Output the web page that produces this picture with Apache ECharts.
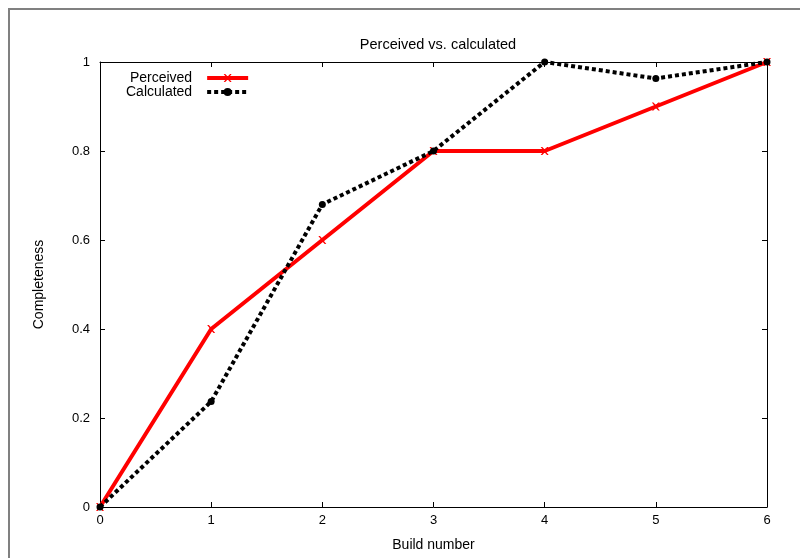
<!DOCTYPE html>
<html><head><meta charset="utf-8">
<script src="https://cdn.jsdelivr.net/npm/echarts@6/dist/echarts.min.js"></script>
<style>html,body{margin:0;padding:0;background:#fff}#c{width:800px;height:558px}</style>
</head><body><div id="c"></div>
<script>
const buildNumbers = [0, 1, 2, 3, 4, 5, 6];
const perceived = [0, 0.4, 0.6, 0.8, 0.8, 0.9, 1.0];
const calculated = [0, 0.237, 0.68, 0.8, 1.0, 0.963, 1.0];
const seriesNames = ['Perceived', 'Calculated'];

const font = 'Liberation Sans, Arial, sans-serif';
const chart = echarts.init(document.getElementById('c'), null, {renderer: 'canvas'});
const crossPath = 'path://M0,0 L2,0 L5,3 L8,0 L10,0 L6,5 L10,10 L8,10 L5,7 L2,10 L0,10 L4,5 Z';
const tickCommon = {show: true, inside: true, length: 5, lineStyle: {color: '#000', width: 1}};
const lineCommon = {show: true, onZero: false, lineStyle: {color: '#000', width: 1}};
chart.setOption({
  animation: false,
  backgroundColor: '#fff',
  title: {text: 'Perceived vs. calculated', left: 433, top: 32, textAlign: 'center',
    textStyle: {fontFamily: font, fontSize: 14.5, fontWeight: 'normal', color: '#000'}},
  graphic: [{type: 'rect', shape: {x: 9, y: 9, width: 820, height: 580},
    style: {fill: null, stroke: '#808080', lineWidth: 2}, silent: true}],
  legend: {
    orient: 'vertical', left: 121, top: 66, align: 'right', itemGap: 0,
    itemWidth: 41, itemHeight: 10,
    lineStyle: {width: 4},
    textStyle: {fontFamily: font, fontSize: 14, lineHeight: 14, color: '#000', padding: [0, 10, 0, 0]},
    data: seriesNames
  },
  grid: {left: 100, right: 33, top: 62, bottom: 51, containLabel: false},
  xAxis: [{
    type: 'value', min: 0, max: 6, interval: 1, name: 'Build number', nameLocation: 'middle', nameGap: 31,
    nameTextStyle: {fontFamily: font, fontSize: 14, color: '#000'},
    axisLine: lineCommon, axisTick: tickCommon, splitLine: {show: false},
    axisLabel: {fontFamily: font, fontSize: 13, color: '#000', margin: 7}
  }, {
    type: 'value', position: 'top', min: 0, max: 6, interval: 1,
    axisLine: lineCommon, axisTick: tickCommon, axisLabel: {show: false}, splitLine: {show: false}
  }],
  yAxis: [{
    type: 'value', min: 0, max: 1, interval: 0.2, name: 'Completeness', nameLocation: 'middle', nameGap: 54,
    nameTextStyle: {fontFamily: font, fontSize: 14, color: '#000'},
    axisLine: lineCommon, axisTick: tickCommon, splitLine: {show: false},
    axisLabel: {fontFamily: font, fontSize: 13, color: '#000', margin: 10}
  }, {
    type: 'value', position: 'right', min: 0, max: 1, interval: 0.2,
    axisLine: lineCommon, axisTick: tickCommon, axisLabel: {show: false}, splitLine: {show: false}
  }],
  series: [{
    name: seriesNames[0], type: 'line',
    data: buildNumbers.map((x, i) => [x, perceived[i]]),
    symbol: crossPath, symbolSize: 8,
    lineStyle: {color: '#ff0000', width: 4},
    itemStyle: {color: '#ff0000'}, z: 2
  }, {
    name: seriesNames[1], type: 'line',
    data: buildNumbers.map((x, i) => [x, calculated[i]]),
    symbol: 'circle', symbolSize: 7,
    lineStyle: {color: '#000', width: 4, type: [4, 3], cap: 'butt'},
    itemStyle: {color: '#000'}, z: 3
  }]
});
</script></body></html>
